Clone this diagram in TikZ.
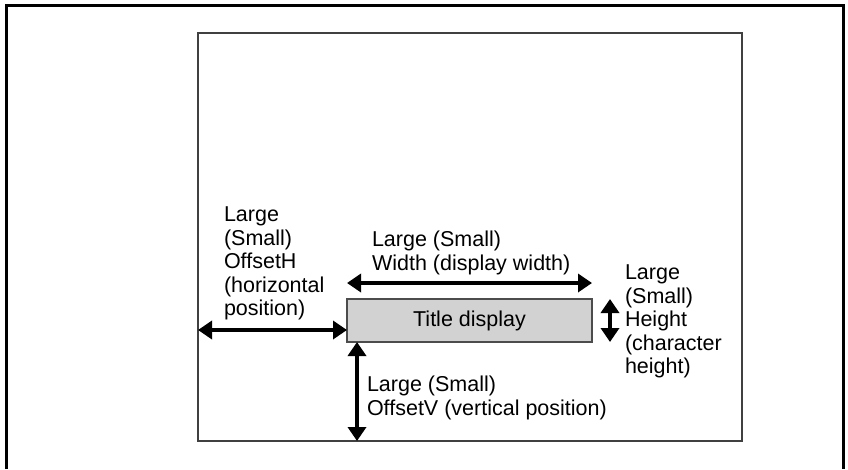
\documentclass[tikz,border=0pt]{standalone}
\usepackage{fontspec}
\setmainfont{Liberation Sans}
\usetikzlibrary{arrows.meta}
\begin{document}
\begin{tikzpicture}[x=1pt,y=-1pt,
  lbl/.style={anchor=north west, inner sep=0pt, outer sep=0pt, align=left, font=\fontsize{21.5}{23.5}\selectfont},
  dimarrow/.style={line width=4pt, {Triangle[length=14pt,width=18pt]}-{Triangle[length=14pt,width=18pt]}},
]
\useasboundingbox (0,0) rectangle (848,469);
\draw[line width=3pt] (6,469) -- (6,5) -- (843,5) -- (843,469);
\node[draw=black!75, line width=2pt, minimum width=544pt, minimum height=408pt, anchor=north west, inner sep=0pt, outer sep=0pt] (frame) at (198,33) {};
\node[draw=black!70, fill=gray!35, line width=1.5pt, minimum width=245pt, minimum height=43pt, anchor=north west, inner sep=0pt, outer sep=0pt, font=\fontsize{21.5}{23.5}\selectfont] (title) at (347,299) {Title display};
\coordinate (hy) at (0,330);
\coordinate (wy) at (0,283);
\coordinate (hx) at (610,0);
\coordinate (vx) at (357,0);
\draw[dimarrow] (frame.west |- hy) -- (title.west |- hy);
\draw[dimarrow] (title.west |- wy) -- (title.east |- wy);
\draw[dimarrow] (hx |- title.north) -- (hx |- title.south);
\draw[dimarrow] (vx |- title.south) -- (vx |- frame.south);
\node[lbl] (lh) at (224,207) {Large\\(Small)\\OffsetH\\(horizontal\\position)};
\node[lbl] (lw) at (372,231) {Large (Small)\\Width (display width)};
\node[lbl] (lht) at (625,265) {Large\\(Small)\\Height\\(character\\height)};
\node[lbl] (lv) at (367,376) {Large (Small)\\OffsetV (vertical position)};
\end{tikzpicture}
\end{document}
